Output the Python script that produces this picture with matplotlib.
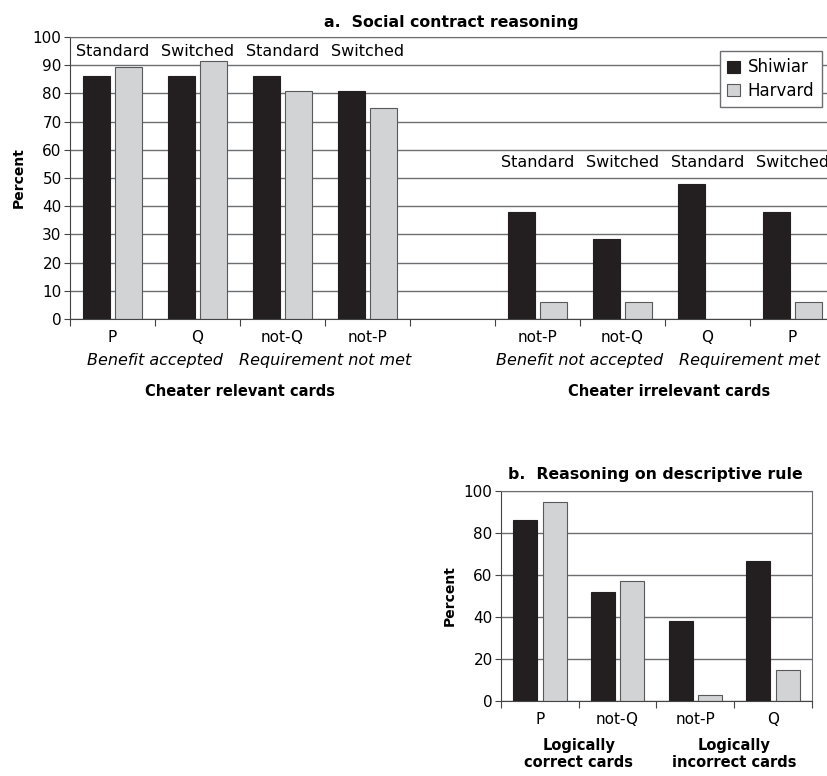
import matplotlib.pyplot as plt
import numpy as np

plt.rcParams['font.family'] = ['DejaVu Sans']

# data, panel a
cats_a = ['P', 'Q', 'not-Q', 'not-P', '', 'not-P', 'not-Q', 'Q', 'P']
shiwiar_a = [86, 86, 86, 81, None, 38, 28.5, 48, 38]
harvard_a = [89.5, 91.5, 81, 75, None, 6, 6, 0, 6]
versions = ['Standard', 'Switched', 'Standard', 'Switched']

# data, panel b
cats_b = ['P', 'not-Q', 'not-P', 'Q']
shiwiar_b = [86, 52, 38, 66.5]
harvard_b = [95, 57, 3, 15]

black = '#231f20'
grey = '#d1d3d4'
edge = '#58595b'
gridc = '#6d6e71'

fig = plt.figure(figsize=(8.28, 7.76), dpi=100)


def style_axes(ax, ymax, step):
    ax.set_ylim(0, ymax)
    ax.set_yticks(np.arange(0, ymax + 1, step))
    ax.yaxis.grid(True, color=gridc, lw=1)
    ax.set_axisbelow(True)
    for s in ['top', 'right']:
        ax.spines[s].set_color(gridc)
    ax.spines['left'].set_color('#444444')
    ax.spines['bottom'].set_color('#444444')
    ax.tick_params(axis='y', labelsize=11, length=4, color='#444444', pad=2)
    ax.tick_params(axis='x', length=5, color='#444444', labelbottom=False)


# ---- panel a
ax = fig.add_axes([70 / 828, 1 - 319 / 776, 765 / 828, 282 / 776])
x = np.arange(len(cats_a))
bw = 0.32
off = 0.19
for i in range(len(cats_a)):
    if shiwiar_a[i] is None:
        continue
    ax.bar(x[i] - off, shiwiar_a[i], bw, color=black, edgecolor=black, lw=0.8,
           label='Shiwiar' if i == 0 else None)
    if harvard_a[i] > 0:
        ax.bar(x[i] + off, harvard_a[i], bw, color=grey, edgecolor=edge, lw=0.8,
               label='Harvard' if i == 0 else None)
ax.set_xlim(-0.5, 8.5)
ax.set_xticks(np.arange(-0.5, 9, 1))
style_axes(ax, 100, 10)
ax.set_ylabel('Percent', fontsize=10, fontweight='bold', labelpad=5)
ax.set_title('a.  Social contract reasoning', fontsize=11.3, fontweight='bold',
             x=0.498, pad=7)

tr = ax.get_xaxis_transform()
h = 282
for i, c in enumerate(cats_a):
    ax.text(x[i], -18 / h, c, transform=tr, ha='center', va='center', fontsize=11)
for j, v in enumerate(versions):
    ax.text(x[j], 95, v, ha='center', va='center', fontsize=11.5)
    ax.text(x[j + 5], 55.5, v, ha='center', va='center', fontsize=11.5)
for xx, t in [(0.5, 'Benefit accepted'), (2.5, 'Requirement not met'),
              (5.5, 'Benefit not accepted'), (7.5, 'Requirement met')]:
    ax.text(xx, -41 / h, t, transform=tr, ha='center', va='center',
            fontsize=11.5, style='italic')
ax.text(1.5, -73 / h, 'Cheater relevant cards', transform=tr, ha='center',
        va='center', fontsize=10.5, fontweight='bold')
ax.text(6.55, -73 / h, 'Cheater irrelevant cards', transform=tr, ha='center',
        va='center', fontsize=10.5, fontweight='bold')

ax.legend(loc='upper right', bbox_to_anchor=(822 / 828, 1 - 51 / 776),
          bbox_transform=fig.transFigure, fontsize=12, frameon=True,
          fancybox=False, edgecolor=gridc, framealpha=1, handlelength=0.75,
          handleheight=0.75, handletextpad=0.5, borderpad=0.45,
          labelspacing=0.3, borderaxespad=0)

# ---- panel b
bx = fig.add_axes([501 / 828, 1 - 701 / 776, 311 / 828, 210 / 776])
xb = np.arange(len(cats_b))
bx.bar(xb - off, shiwiar_b, 0.31, color=black, edgecolor=black, lw=0.8)
bx.bar(xb + off, harvard_b, 0.31, color=grey, edgecolor=edge, lw=0.8)
bx.set_xlim(-0.5, 3.5)
bx.set_xticks(np.arange(-0.5, 4, 1))
style_axes(bx, 100, 20)
bx.set_ylabel('Percent', fontsize=10, fontweight='bold', labelpad=5)
bx.set_title('b.  Reasoning on descriptive rule', fontsize=11.3,
             fontweight='bold', x=0.495, pad=9)
trb = bx.get_xaxis_transform()
hb = 210
for i, c in enumerate(cats_b):
    bx.text(xb[i], -18 / hb, c, transform=trb, ha='center', va='center', fontsize=11)
bx.text(0.5, -53 / hb, 'Logically\ncorrect cards', transform=trb, ha='center',
        va='center', fontsize=10.5, fontweight='bold', linespacing=1.1)
bx.text(2.5, -53 / hb, 'Logically\nincorrect cards', transform=trb, ha='center',
        va='center', fontsize=10.5, fontweight='bold', linespacing=1.1)

fig.savefig('out.png', dpi=100)
